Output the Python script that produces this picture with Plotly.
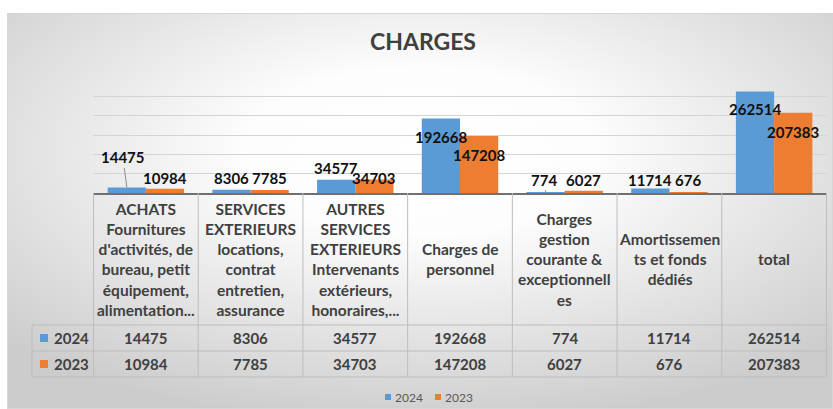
import base64
import plotly.graph_objects as go

# ---------------- data ----------------
categories = [
    "ACHATS Fournitures d'activités, de bureau, petit équipement, alimentation...",
    "SERVICES EXTERIEURS locations, contrat entretien, assurance",
    "AUTRES SERVICES EXTERIEURS Intervenants extérieurs, honoraires,...",
    "Charges de personnel",
    "Charges gestion courante & exceptionnelles",
    "Amortissements et fonds dédiés",
    "total",
]
header_labels = [
    "ACHATS<br>Fournitures<br>d'activités, de<br>bureau, petit<br>équipement,<br>alimentation...",
    "SERVICES<br>EXTERIEURS<br>locations,<br>contrat<br>entretien,<br>assurance",
    "AUTRES<br>SERVICES<br>EXTERIEURS<br>Intervenants<br>extérieurs,<br>honoraires,...",
    "Charges de<br>personnel",
    "Charges<br>gestion<br>courante &<br>exceptionnell<br>es",
    "Amortissemen<br>ts et fonds<br>dédiés",
    "total",
]
series_names = ["2024", "2023"]
values_2024 = [14475, 8306, 34577, 192668, 774, 11714, 262514]
values_2023 = [10984, 7785, 34703, 147208, 6027, 676, 207383]
y_ticks = [0, 50000, 100000, 150000, 200000, 250000, 300000]
title_text = "CHARGES"

# ---------------- style ----------------
W, H = 833, 409
PL, PR, PT, PB = 93, 827, 77, 193  # plot area in pixels
colors = ["#5B9BD5", "#ED7D31"]
FONT = "Lato"
TXT = "#404040"
GRID = "#d4d4d4"
BORDER = "#bdbdbd"
bar_offset = 19
# label vertical offsets (px, positive = up from bar top) and leader flags
label_dy = [[30, 12, 12, -18, 13, 8, -18], [11, 12, 2, -19, 11, 13, -19]]
label_dx = [[-4, 0, 0, 0, -2, 0, 0], [0, 0, 0, 0, 0, 0, 0]]
leader = [[True, False, False, False, True, False, False], [False] * 7]


def px2x(px):
    return (px - PL) / (PR - PL)


def py2y(py):
    return (PB - py) / (PB - PT)


fig = go.Figure()
for s, vals in enumerate([values_2024, values_2023]):
    fig.add_trace(go.Bar(x=categories, y=vals, name=series_names[s],
                         marker=dict(color=colors[s], line=dict(width=0)),
                         showlegend=False))

annotations = []
# data labels
for s, vals in enumerate([values_2024, values_2023]):
    sx = -bar_offset if s == 0 else bar_offset
    for i, v in enumerate(vals):
        common = dict(x=categories[i], y=v, xref="x", yref="y", text=f"<b>{v}</b>",
                      font=dict(family=FONT, size=15, color="#111111"))
        if leader[s][i]:
            annotations.append(dict(**common, xshift=sx, showarrow=True, ax=label_dx[s][i],
                                    ay=-label_dy[s][i], arrowhead=0, arrowwidth=1,
                                    arrowcolor="#8c8c8c", standoff=0,
                                    xanchor="center", yanchor="middle"))
        else:
            annotations.append(dict(**common, xshift=sx + label_dx[s][i], yshift=label_dy[s][i],
                                    showarrow=False, xanchor="center", yanchor="middle"))

# table header texts
header_mid = py2y((193 + 325) / 2)
for i, lab in enumerate(header_labels):
    annotations.append(dict(x=categories[i], y=header_mid, xref="x", yref="paper",
                            text=f"<b>{lab}</b>", showarrow=False, xanchor="center",
                            yanchor="middle", font=dict(family=FONT, size=15.5, color=TXT)))
# table rows
row_y = [338, 364]
for s, vals in enumerate([values_2024, values_2023]):
    for i, v in enumerate(vals):
        annotations.append(dict(x=categories[i], y=py2y(row_y[s]), xref="x", yref="paper",
                                text=f"<b>{v}</b>", showarrow=False, xanchor="center",
                                yanchor="middle", font=dict(family=FONT, size=15, color=TXT)))
    annotations.append(dict(x=px2x(52), y=py2y(row_y[s]), xref="paper", yref="paper",
                            text=f"<b>{series_names[s]}</b>", showarrow=False, xanchor="left",
                            yanchor="middle", font=dict(family=FONT, size=15, color=TXT)))

# legend
leg_x = [388, 438]
for s in range(2):
    annotations.append(dict(x=px2x(leg_x[s] + 5), y=py2y(397), xref="paper", yref="paper",
                            text=series_names[s], showarrow=False, xanchor="left",
                            yanchor="middle", font=dict(family=FONT, size=12, color="#595959")))

shapes = []
# table borders
for i in range(len(categories) + 1):
    shapes.append(dict(type="line", xref="x", yref="paper", x0=i - 0.5, x1=i - 0.5,
                       y0=py2y(193), y1=py2y(377), line=dict(color=BORDER, width=1)))
shapes.append(dict(type="line", xref="paper", yref="paper", x0=px2x(32), x1=px2x(32),
                   y0=py2y(325), y1=py2y(377), line=dict(color=BORDER, width=1)))
for yy in [325, 351, 377]:
    shapes.append(dict(type="line", xref="paper", yref="paper", x0=px2x(32), x1=px2x(PR),
                       y0=py2y(yy), y1=py2y(yy), line=dict(color=BORDER, width=1)))
# color keys (table rows and legend)
for s in range(2):
    shapes.append(dict(type="rect", xref="paper", yref="paper", x0=px2x(40), x1=px2x(48),
                       y0=py2y(row_y[s] - 4), y1=py2y(row_y[s] + 4),
                       fillcolor=colors[s], line=dict(width=0)))
    shapes.append(dict(type="rect", xref="paper", yref="paper", x0=px2x(leg_x[s] - 3),
                       x1=px2x(leg_x[s] + 3), y0=py2y(394), y1=py2y(400),
                       fillcolor=colors[s], line=dict(width=0)))

# background gradient (chart area)
bw, bh = W - 7, H - 13
svg = (f"<svg xmlns='http://www.w3.org/2000/svg' width='{bw}' height='{bh}' viewBox='0 0 {bw} {bh}' "
       f"preserveAspectRatio='none'><defs><radialGradient id='g' cx='50%' cy='35%' r='70%'>"
       f"<stop offset='0' stop-color='#ffffff'/><stop offset='0.3' stop-color='#fdfdfd'/>"
       f"<stop offset='1' stop-color='#cccccc'/></radialGradient></defs>"
       f"<rect x='0.5' y='0.5' width='{bw - 1}' height='{bh - 1}' fill='url(#g)' stroke='#d6d6d6'/></svg>")
src = "data:image/svg+xml;base64," + base64.b64encode(svg.encode()).decode()

fig.update_layout(
    width=W, height=H, autosize=False,
    margin=dict(l=PL, r=W - PR, t=PT, b=H - PB, pad=0),
    paper_bgcolor="#ffffff", plot_bgcolor="rgba(0,0,0,0)",
    barmode="group", bargap=0.27, bargroupgap=0,
    showlegend=False,
    title=dict(text=f"<b>{title_text}</b>", x=423 / W, xref="container", xanchor="center",
               y=1 - 42 / H, yref="container", yanchor="middle",
               font=dict(family=FONT, size=23, color="#404040")),
    xaxis=dict(showticklabels=False, ticks="", showgrid=False, showline=True,
               linecolor="#707070", linewidth=2, zeroline=False, fixedrange=True),
    yaxis=dict(range=[0, 300000], tickvals=y_ticks, showticklabels=False, ticks="",
               showgrid=True, gridcolor=GRID, gridwidth=1, zeroline=False,
               showline=False, fixedrange=True),
    annotations=annotations,
    shapes=shapes,
    images=[dict(source=src, xref="paper", yref="paper", x=px2x(7), y=py2y(13),
                 sizex=bw / (PR - PL), sizey=bh / (PB - PT), xanchor="left", yanchor="top",
                 sizing="stretch", layer="below")],
)

fig.write_html("out.html", config={"displayModeBar": False},
               post_script="document.body.style.margin='0';document.body.style.overflow='hidden';")
